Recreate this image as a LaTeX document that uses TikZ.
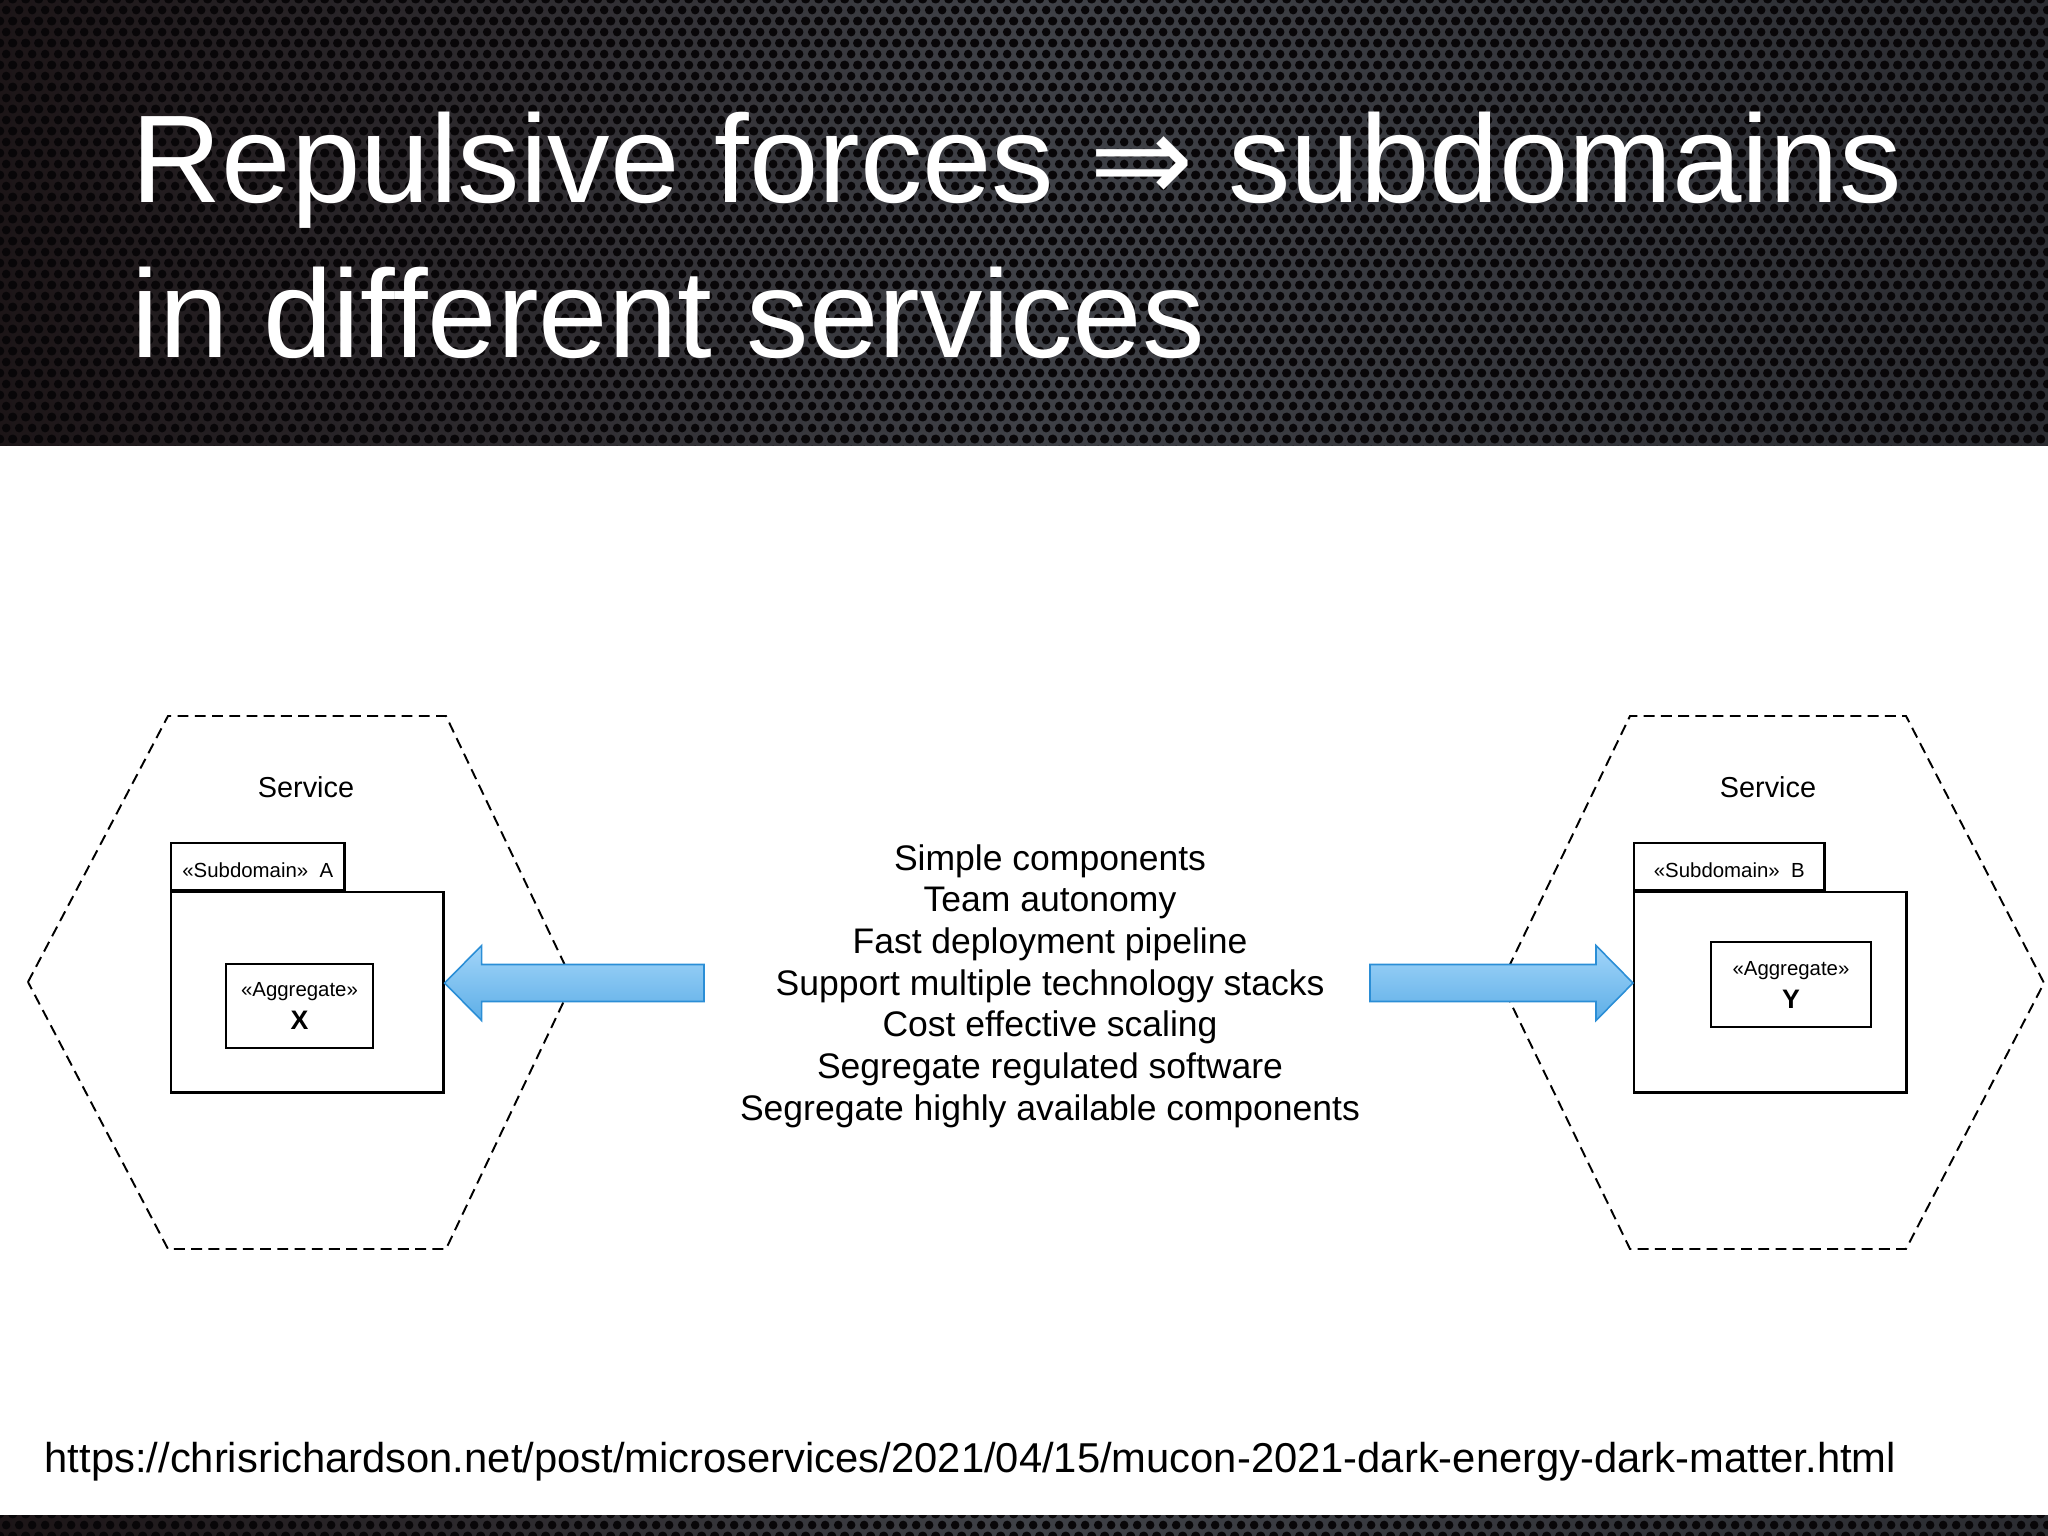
\documentclass[tikz,border=0pt]{standalone}
\usepackage{fontspec}
\setmainfont{Liberation Sans}
\newfontfamily\arrowfont{DejaVu Sans}
\usetikzlibrary{calc,patterns.meta}
\definecolor{holecol}{HTML}{080608}
\definecolor{plateleft}{HTML}{1C1517}
\definecolor{platemid}{HTML}{3F4147}
\definecolor{plateright}{HTML}{2B2C31}
\definecolor{arrowtop}{HTML}{A2D5F9}
\definecolor{arrowbot}{HTML}{5DAEE7}
\definecolor{arrowedge}{HTML}{2B8ED6}
\newcommand{\aggname}{\bfseries\fontsize{7.6}{9.4}\selectfont}

% perforated metal of the slide header
\tikzdeclarepattern{
  name=grille,
  type=uncolored,
  bottom left={(0pt,0pt)},
  top right={(3.6pt,6.24pt)},
  tile size={(3.6pt,6.24pt)},
  code={
    \tikzset{x=1pt,y=1pt}
    \fill (0,0) circle [radius=1.25] (3.6,0) circle [radius=1.25]
      (0,6.24) circle [radius=1.25] (3.6,6.24) circle [radius=1.25]
      (1.8,3.12) circle [radius=1.25];
  }
}

\begin{document}
\begin{tikzpicture}[x=0.01cm, y=-0.01cm,
    hexline/.style={draw, line width=0.55pt, dash pattern=on 3.1pt off 1.8pt},
    plate/.style={left color=plateleft, right color=plateright, middle color=platemid},
    pkgtab/.style={draw, line width=0.7pt, minimum height=0.47cm, inner sep=0pt,
      text height=6.5pt, text depth=0pt, font=\fontsize{5.8}{7}\selectfont},
    pkgbody/.style={draw, line width=0.7pt, minimum width=2.72cm, minimum height=2cm, inner sep=0pt},
    aggbox/.style={draw, line width=0.7pt, align=center, inner sep=0pt, font=\fontsize{5.8}{9.4}\selectfont},
    svclabel/.style={anchor=base, inner sep=0pt, font=\fontsize{8.2}{10}\selectfont},
    titletext/.style={anchor=base west, inner sep=0pt, text=white, font=\fontsize{35.5}{40}\selectfont},
    fatarrow/.style={draw=arrowedge, line width=0.45pt, top color=arrowtop, bottom color=arrowbot}]
  \useasboundingbox (0,0) rectangle (2048,1536);
  \fill[white] (0,0) rectangle (2048,1536);

  % Header
  \fill[plate] (0,0) rectangle (2048,445);
  \fill[pattern=grille, pattern color=holecol] (0,0) rectangle (2048,445);
  \fill[plate] (0,1515) rectangle (2048,1536);
  \fill[pattern=grille, pattern color=holecol] (0,1515) rectangle (2048,1536);
  \node[titletext] (title1) at (131,202) {Repulsive forces {\arrowfont ⇒} subdomains};
  \node[titletext] (title2) at (131,357) {in different services};

  % Service A
  \draw[hexline] (28,982) -- (168,716) -- (446,716) -- (573,982) -- (446,1249) -- (168,1249) -- cycle;
  \node[svclabel] (svcA) at (306,797) {Service};
  \node[pkgtab, minimum width=1.73cm, anchor=south west] (tabA) at (170,891) {«Subdomain»\ \ A};
  \node[pkgbody, anchor=north west] (subA) at (tabA.south west) {};
  \node[aggbox, minimum width=1.47cm, minimum height=0.84cm] (aggX) at (299.5,1006) {«Aggregate»\\{\aggname X}};

  % Service B
  \draw[hexline] (1501,983) -- (1630,716) -- (1906,716) -- (2044,983) -- (1906,1249) -- (1630,1249) -- cycle;
  \node[svclabel] (svcB) at (1768,797) {Service};
  \node[pkgtab, minimum width=1.90cm, anchor=south west] (tabB) at (1633,891) {«Subdomain»\ \ B};
  \node[pkgbody, anchor=north west] (subB) at (tabB.south west) {};
  \node[aggbox, minimum width=1.60cm, minimum height=0.85cm] (aggY) at (1791,984.5) {«Aggregate»\\{\aggname Y}};

  % Forces
  \node[align=center, inner sep=0pt, font=\fontsize{10.1}{11.86}\selectfont] (forces) at (1050,986)
    {Simple components\\Team autonomy\\Fast deployment pipeline\\Support multiple technology stacks\\
     Cost effective scaling\\Segregate regulated software\\Segregate highly available components};
  \coordinate (tailA) at (704,983);
  \coordinate (tailB) at (1370,983);
  \coordinate (tipA) at (subA.east |- tailA);
  \coordinate (tipB) at (subB.west |- tailB);
  \draw[fatarrow] (tipA) -- ++(37,-37.5) -- ++(0,19) -- ($(tailA)+(0,-18.5)$) -- ($(tailA)+(0,18.5)$)
    -- ($(tipA)+(37,18.5)$) -- ++(0,19) -- cycle;
  \draw[fatarrow] (tipB) -- ++(-37,-37.5) -- ++(0,19) -- ($(tailB)+(0,-18.5)$) -- ($(tailB)+(0,18.5)$)
    -- ($(tipB)+(-37,18.5)$) -- ++(0,19) -- cycle;

  % Source
  \node[anchor=base west, inner sep=0pt, font=\fontsize{11.87}{14}\selectfont] (url) at (44,1472)
    {https://chrisrichardson.net/post/microservices/2021/04/15/mucon-2021-dark-energy-dark-matter.html};
\end{tikzpicture}
\end{document}
